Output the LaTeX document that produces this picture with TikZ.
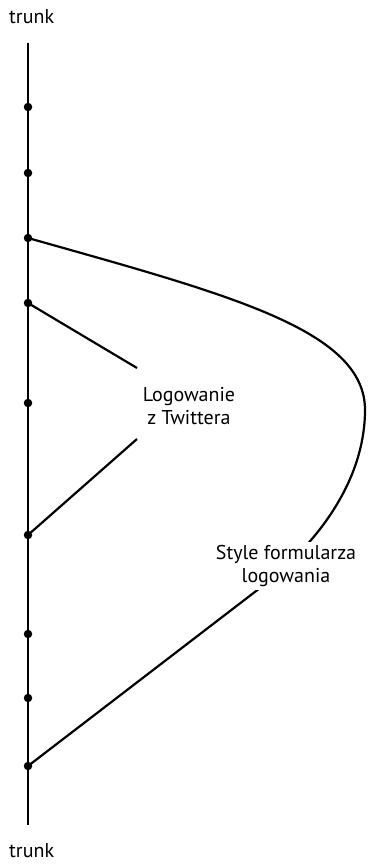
\documentclass[tikz,border=0pt]{standalone}
\usepackage{fontspec}
\setmainfont{PT Sans}
\begin{document}
\begin{tikzpicture}[x=1pt,y=-1pt,
  dot/.style={circle,fill=black,inner sep=0pt,minimum size=8.5pt},
  branch/.style={line width=2.2pt,black},
  lbl/.style={font=\fontsize{20}{23.5}\selectfont,align=center,inner sep=1pt},
  trunklbl/.style={font=\fontsize{20}{23}\selectfont,anchor=base west,inner sep=0pt}]
\useasboundingbox (0,0) rectangle (367,864);
\node[trunklbl] (tl1) at (9,24) {trunk};
\node[trunklbl] (tl2) at (9,857) {trunk};
\coordinate (ttop) at (28,43);
\coordinate (tbot) at (28,825);
\draw[branch] (ttop) -- (tbot);
\foreach \n/\y in {1/107,2/173,3/238,4/303,5/403,6/535,7/634,8/698,9/766}
  \node[dot] (d\n) at (28,\y) {};
% Twitter branch
\coordinate (tw1) at (137,368);
\coordinate (tw2) at (137,439);
\draw[branch] (d4.center) -- (tw1);
\draw[branch] (tw2) -- (d6.center);
\node[lbl] (tw) at (189,406) {Logowanie\\z Twittera};
% Style branch
\draw[branch] (d3.center) .. controls (230,295) and (365,330) .. (365,410)
  .. controls (365,470) and (330,534) .. (260,588) -- (d9.center);
\node[lbl,fill=white,inner sep=3pt] (st) at (286,566) {Style formularza\\logowania};
\end{tikzpicture}
\end{document}
